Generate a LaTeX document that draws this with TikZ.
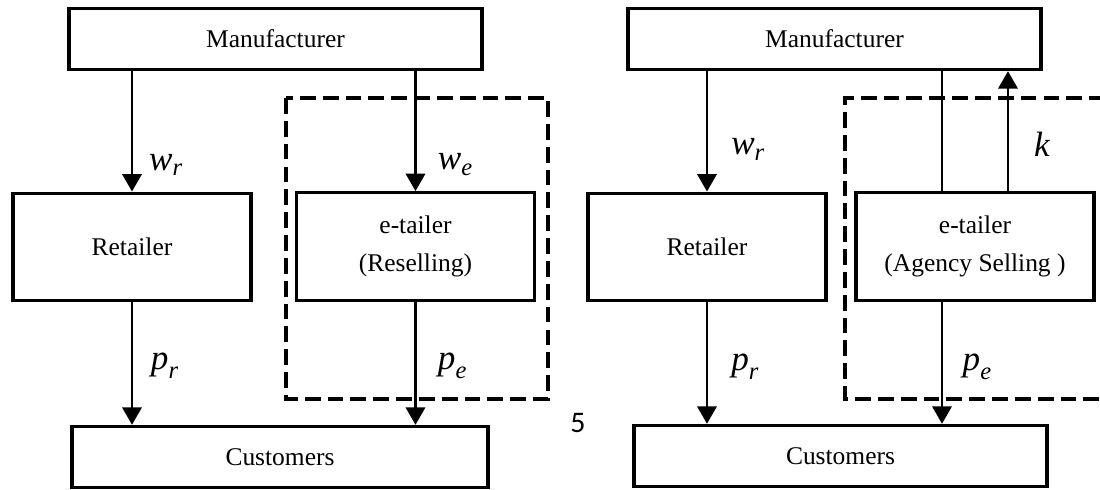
\documentclass[tikz,border=0pt]{standalone}
\usepackage{amsmath}
\usepackage{fontspec}
\setmainfont{Liberation Serif}
\newfontfamily\pagenumfont{Carlito}
\usetikzlibrary{arrows.meta,positioning}

\begin{document}
\begin{tikzpicture}[
    x=0.02cm, y=-0.02cm,
    box/.style={rectangle, draw, line width=1.9pt, align=center, font=\fontsize{14.5}{21.5}\selectfont},
    widebox/.style={box, minimum width=8.26cm, minimum height=1.22cm},
    sidebox/.style={box, minimum width=4.76cm, minimum height=2.15cm},
    arrow/.style={-{Triangle[length=10pt, width=11pt]}, line width=1.6pt},
    link/.style={line width=1.6pt},
    group/.style={line width=1.8pt, dash pattern=on 9pt off 4pt},
    lbl/.style={font=\fontsize{20}{24}\selectfont, inner sep=2pt},
  ]
  \useasboundingbox (0,0) rectangle (1100,490);

  % Reselling
  \node[widebox] (mfrL) at (275.5,39) {Manufacturer};
  \node[sidebox] (retL) at (132,247) {Retailer};
  \node[sidebox] (etlL) at (415.5,246.5) {e-tailer\\(Reselling)};
  \node[widebox, minimum width=8.32cm] (cusL) at (280,457) {Customers};
  \draw[group] (286,98) rectangle (548,399);

  \draw[arrow] (retL.north |- mfrL.south) -- node[lbl, right=7pt, pos=0.78] {$\textit{w}_{\textit{r}}$} (retL.north);
  \draw[arrow] (etlL.north |- mfrL.south) -- node[lbl, right=10pt, pos=0.78] {$\textit{w}_{\textit{e}}$} (etlL.north);
  \draw[arrow] (retL.south) -- node[lbl, right=8pt, pos=0.52] {$\textit{p}_{\textit{r}}$} (retL.south |- cusL.north);
  \draw[arrow] (etlL.south) -- node[lbl, right=10pt, pos=0.52] {$\textit{p}_{\textit{e}}$} (etlL.south |- cusL.north);

  % Agency selling
  \node[widebox] (mfrR) at (834.5,39) {Manufacturer};
  \node[sidebox] (retR) at (707,247) {Retailer};
  \node[sidebox] (etlR) at (975,246.5) {e-tailer\\(Agency Selling )};
  \node[widebox] (cusR) at (840.5,456) {Customers};
  \draw[group] (1105,98) -- (845,98) -- (845,399) -- (1105,399);

  \draw[arrow] (retR.north |- mfrR.south) -- node[lbl, right=11pt, pos=0.65] {$\textit{w}_{\textit{r}}$} (retR.north);
  \draw[link] ([xshift=-0.66cm]etlR.north) -- ([xshift=-0.66cm]etlR.north |- mfrR.south);
  \draw[arrow] ([xshift=0.66cm]etlR.north) -- node[lbl, right=12pt, pos=0.39] {$\textit{k}$} ([xshift=0.66cm]etlR.north |- mfrR.south);
  \draw[arrow] (retR.south) -- node[lbl, right=11pt, pos=0.53] {$\textit{p}_{\textit{r}}$} (retR.south |- cusR.north);
  \draw[arrow] ([xshift=-0.66cm]etlR.south) -- node[lbl, right=9pt, pos=0.53] {$\textit{p}_{\textit{e}}$} ([xshift=-0.66cm]etlR.south |- cusR.north);

  % page number
  \node[font=\pagenumfont\fontsize{17}{20}\selectfont] (pagenum) at (578,423) {5};
\end{tikzpicture}
\end{document}
